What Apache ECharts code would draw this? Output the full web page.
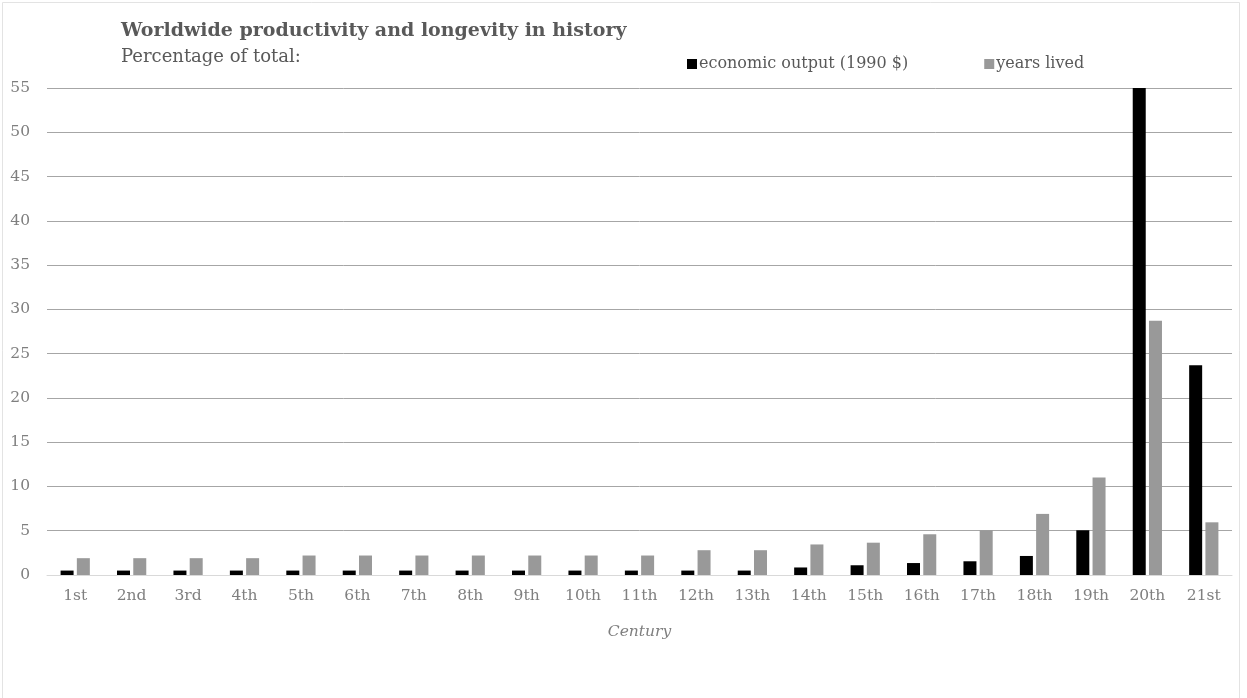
<!DOCTYPE html>
<html>
<head>
<meta charset="utf-8">
<script src="https://cdn.jsdelivr.net/npm/echarts@6/dist/echarts.min.js"></script>
<style>
  html, body { margin: 0; padding: 0; background: #fff; }
  #chart { width: 1247px; height: 698px; }
</style>
</head>
<body>
<div id="chart"></div>
<script>
const centuries = ['1st', '2nd', '3rd', '4th', '5th', '6th', '7th', '8th', '9th', '10th', '11th',
    '12th', '13th', '14th', '15th', '16th', '17th', '18th', '19th', '20th', '21st'];
const economicOutput = [0.5, 0.5, 0.5, 0.5, 0.5, 0.5, 0.5, 0.5, 0.5, 0.5, 0.5,
    0.5, 0.5, 0.85, 1.1, 1.35, 1.55, 2.15, 5.05, 55, 23.7];
const yearsLived = [1.9, 1.9, 1.9, 1.9, 2.2, 2.2, 2.2, 2.2, 2.2, 2.2, 2.2,
    2.8, 2.8, 3.45, 3.65, 4.6, 5.05, 6.9, 11.0, 28.7, 5.95];
const yTicks = [0, 5, 10, 15, 20, 25, 30, 35, 40, 45, 50, 55];

// closest installed stand-in for the Palatino-like face of the original
const serif = '"DejaVu Serif", "Liberation Serif", serif';
const chart = echarts.init(document.getElementById('chart'));

chart.setOption({
    backgroundColor: '#fff',
    animation: false,
    textStyle: { fontFamily: serif },
    title: {
        text: 'Worldwide productivity and longevity in history',
        subtext: 'Percentage of total:',
        left: 116,
        top: 17,
        itemGap: 7,
        textStyle: { fontFamily: serif, fontSize: 19, fontWeight: 'bold', color: '#595959' },
        subtextStyle: { fontFamily: serif, fontSize: 18, color: '#595959' }
    },
    legend: {
        left: 682,
        top: 51,
        itemWidth: 10,
        itemHeight: 10,
        itemGap: 76,
        icon: 'rect',
        textStyle: { fontFamily: serif, fontSize: 16, color: '#595959', padding: [0, 0, 0, -3] },
        data: ['economic output (1990 $)', 'years lived']
    },
    grid: { left: 47, right: 15, top: 88, bottom: 123, containLabel: false },
    xAxis: {
        type: 'category',
        data: centuries,
        axisLine: { lineStyle: { color: '#d9d9d9', width: 1 } },
        axisTick: { show: false },
        axisLabel: { fontFamily: serif, fontSize: 15.5, color: '#7f7f7f', margin: 13 },
        name: 'Century',
        nameLocation: 'middle',
        nameGap: 49,
        nameTextStyle: { fontFamily: serif, fontSize: 15.5, fontStyle: 'italic', color: '#7f7f7f' }
    },
    yAxis: {
        type: 'value',
        min: yTicks[0],
        max: yTicks[yTicks.length - 1],
        interval: 5,
        axisLine: { show: false },
        axisTick: { show: false },
        axisLabel: { fontFamily: serif, fontSize: 15.5, color: '#7f7f7f', margin: 17 },
        splitLine: { lineStyle: { color: '#a6a6a6', width: 1 } }
    },
    series: [
        {
            name: 'economic output (1990 $)',
            type: 'bar',
            data: economicOutput,
            barWidth: 13,
            barGap: '25%',
            clip: true,
            itemStyle: { color: '#000000' }
        },
        {
            name: 'years lived',
            type: 'bar',
            data: yearsLived,
            barWidth: 13,
            itemStyle: { color: '#999999' }
        }
    ],
    graphic: [
        {
            type: 'rect',
            shape: { x: 2.5, y: 2.5, width: 1237, height: 700 },
            style: { fill: 'none', stroke: '#e3e3e3', lineWidth: 1 },
            silent: true
        }
    ]
});
</script>
</body>
</html>
